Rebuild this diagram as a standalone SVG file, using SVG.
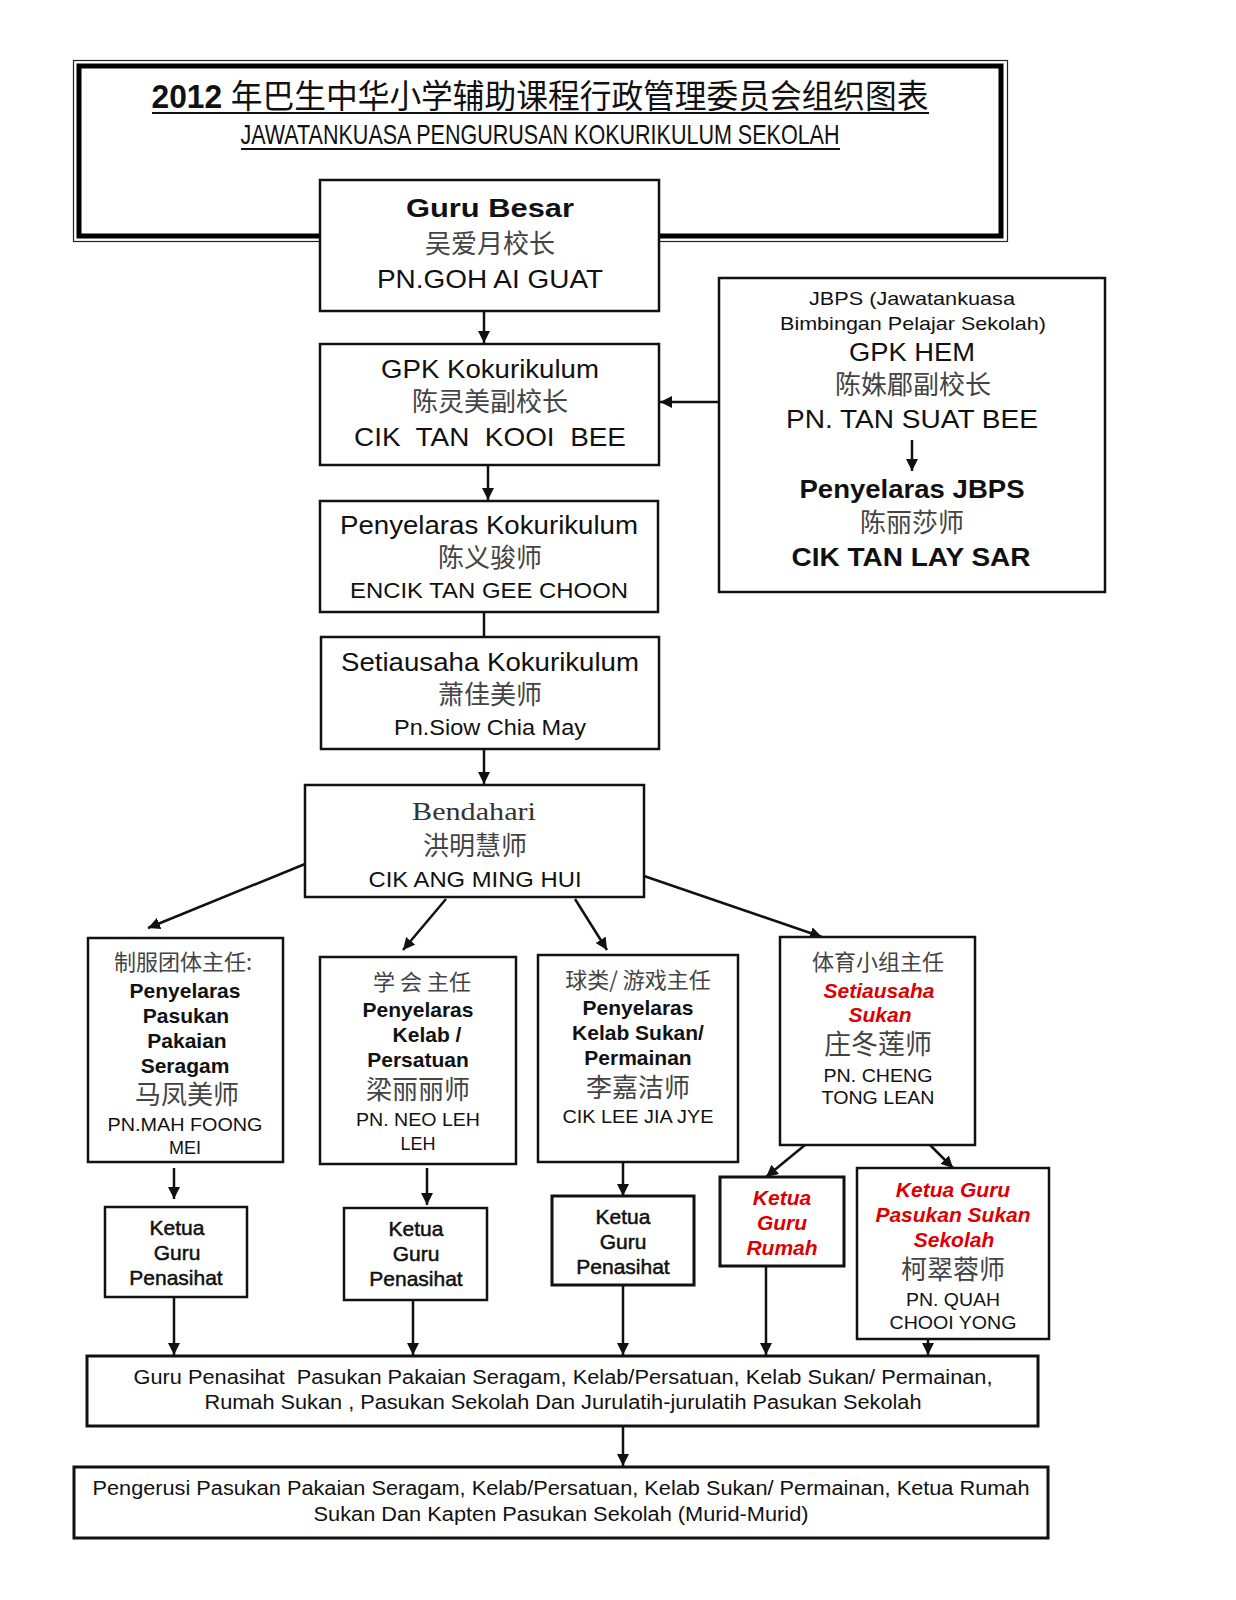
<svg xmlns="http://www.w3.org/2000/svg" width="1236" height="1600" viewBox="0 0 1236 1600">
<style>
.box{fill:#fff;stroke:#111;stroke-width:2.5}
.boxb{fill:#fff;stroke:#111;stroke-width:3}
.ln{stroke:#111;stroke-width:2.5;fill:none}
.t{font-family:"Liberation Sans","Noto Sans CJK SC",sans-serif;fill:#111;text-anchor:middle}
.b{font-weight:bold}
.c{font-family:"Noto Sans CJK SC",sans-serif;fill:#444;text-anchor:middle}
.r{fill:#d00;font-weight:bold;font-style:italic}
.k{stroke:#111;stroke-width:0.5}
</style>
<defs>
<marker id="ah" viewBox="0 0 10 10" refX="10" refY="5" markerWidth="12" markerHeight="12" markerUnits="userSpaceOnUse" orient="auto">
<path d="M0,0 L10,5 L0,10 z" fill="#111"/>
</marker>
</defs>

<g id="title">
<rect x="73.5" y="60.5" width="934" height="181" fill="none" stroke="#222" stroke-width="1.2"/>
<rect x="79" y="66" width="922" height="170" fill="#fff" stroke="#000" stroke-width="5"/>
<text class="t" x="540" y="108" font-size="33" textLength="777" lengthAdjust="spacingAndGlyphs"><tspan font-weight="bold">2012 </tspan>年巴生中华小学辅助课程行政管理委员会组织图表</text>
<line x1="152" y1="113" x2="929" y2="113" stroke="#111" stroke-width="2"/>
<text class="t" x="540" y="144" font-size="28" textLength="599" lengthAdjust="spacingAndGlyphs">JAWATANKUASA  PENGURUSAN  KOKURIKULUM  SEKOLAH</text>
<line x1="241" y1="149" x2="840" y2="149" stroke="#111" stroke-width="2"/>
</g>

<g id="connectors">
<line class="ln" x1="484" y1="311" x2="484" y2="343" marker-end="url(#ah)"/>
<line class="ln" x1="719" y1="402" x2="660" y2="402" marker-end="url(#ah)"/>
<line class="ln" x1="488" y1="465" x2="488" y2="500" marker-end="url(#ah)"/>
<line class="ln" x1="484" y1="612" x2="484" y2="637"/>
<line class="ln" x1="484" y1="749" x2="484" y2="784" marker-end="url(#ah)"/>
<line class="ln" x1="305" y1="864" x2="148" y2="928" marker-end="url(#ah)"/>
<line class="ln" x1="446" y1="899" x2="403" y2="950" marker-end="url(#ah)"/>
<line class="ln" x1="575" y1="899" x2="607" y2="950" marker-end="url(#ah)"/>
<line class="ln" x1="644" y1="876" x2="822" y2="937" marker-end="url(#ah)"/>
<line class="ln" x1="174" y1="1168" x2="174" y2="1199" marker-end="url(#ah)"/>
<line class="ln" x1="427" y1="1168" x2="427" y2="1205" marker-end="url(#ah)"/>
<line class="ln" x1="623" y1="1162" x2="623" y2="1196" marker-end="url(#ah)"/>
<line class="ln" x1="805" y1="1145" x2="766" y2="1177" marker-end="url(#ah)"/>
<line class="ln" x1="930" y1="1145" x2="953" y2="1168" marker-end="url(#ah)"/>
<line class="ln" x1="174" y1="1297" x2="174" y2="1355" marker-end="url(#ah)"/>
<line class="ln" x1="413" y1="1300" x2="413" y2="1355" marker-end="url(#ah)"/>
<line class="ln" x1="623" y1="1285" x2="623" y2="1355" marker-end="url(#ah)"/>
<line class="ln" x1="766" y1="1266" x2="766" y2="1355" marker-end="url(#ah)"/>
<line class="ln" x1="928" y1="1339" x2="928" y2="1355" marker-end="url(#ah)"/>
<line class="ln" x1="623" y1="1426" x2="623" y2="1466" marker-end="url(#ah)"/>
</g>

<g id="guru-besar">
<rect class="box" x="320" y="180" width="339" height="131"/>
<text class="t b" x="490" y="217" font-size="26" textLength="168" lengthAdjust="spacingAndGlyphs">Guru Besar</text>
<text class="c" x="490" y="253" font-size="26">吴爱月校长</text>
<text class="t" x="490" y="288" font-size="25" textLength="226" lengthAdjust="spacingAndGlyphs">PN.GOH AI GUAT</text>
</g>

<g id="gpk-kokurikulum">
<rect class="box" x="320" y="344" width="339" height="121"/>
<text class="t" x="490" y="378" font-size="25" textLength="218" lengthAdjust="spacingAndGlyphs">GPK Kokurikulum</text>
<text class="c" x="490" y="411" font-size="26">陈灵美副校长</text>
<text class="t" x="490" y="446" font-size="25" textLength="272" lengthAdjust="spacingAndGlyphs" xml:space="preserve">CIK  TAN  KOOI  BEE</text>
</g>

<g id="jbps">
<rect class="box" x="719" y="278" width="386" height="314"/>
<text class="t" x="912" y="305" font-size="19" textLength="206" lengthAdjust="spacingAndGlyphs">JBPS (Jawatankuasa</text>
<text class="t" x="913" y="330" font-size="19" textLength="266" lengthAdjust="spacingAndGlyphs">Bimbingan Pelajar Sekolah)</text>
<text class="t" x="912" y="361" font-size="25" textLength="126" lengthAdjust="spacingAndGlyphs">GPK HEM</text>
<text class="c" x="913" y="394" font-size="26">陈姝郿副校长</text>
<text class="t" x="912" y="428" font-size="25" textLength="252" lengthAdjust="spacingAndGlyphs">PN. TAN SUAT BEE</text>
<line class="ln" x1="912" y1="440" x2="912" y2="471" marker-end="url(#ah)"/>
<text class="t b" x="912" y="498" font-size="25" textLength="225" lengthAdjust="spacingAndGlyphs">Penyelaras JBPS</text>
<text class="c" x="912" y="532" font-size="26">陈丽莎师</text>
<text class="t b" x="911" y="566" font-size="25" textLength="239" lengthAdjust="spacingAndGlyphs">CIK TAN LAY SAR</text>
</g>

<g id="penyelaras-kokurikulum">
<rect class="box" x="320" y="501" width="338" height="111"/>
<text class="t" x="489" y="534" font-size="25" textLength="298" lengthAdjust="spacingAndGlyphs">Penyelaras Kokurikulum</text>
<text class="c" x="490" y="567" font-size="26">陈义骏师</text>
<text class="t" x="489" y="598" font-size="22" textLength="278" lengthAdjust="spacingAndGlyphs">ENCIK TAN GEE CHOON</text>
</g>

<g id="setiausaha-kokurikulum">
<rect class="box" x="321" y="637" width="338" height="112"/>
<text class="t" x="490" y="671" font-size="25" textLength="298" lengthAdjust="spacingAndGlyphs">Setiausaha Kokurikulum</text>
<text class="c" x="490" y="704" font-size="26">萧佳美师</text>
<text class="t" x="490" y="735" font-size="22" textLength="192" lengthAdjust="spacingAndGlyphs">Pn.Siow Chia May</text>
</g>

<g id="bendahari">
<rect class="box" x="305" y="785" width="339" height="112"/>
<text x="474" y="820" font-family="Liberation Serif,serif" font-size="25" fill="#333" text-anchor="middle" textLength="124" lengthAdjust="spacingAndGlyphs">Bendahari</text>
<text class="c" x="475" y="855" font-size="26">洪明慧师</text>
<text class="t" x="475" y="887" font-size="22" textLength="213" lengthAdjust="spacingAndGlyphs">CIK ANG MING HUI</text>
</g>

<g id="pakaian-seragam">
<rect class="box" x="88" y="938" width="195" height="224"/>
<text class="c" x="183" y="970" font-size="22">制服团体主任:</text>
<text class="t b" x="185" y="998" font-size="21">Penyelaras</text>
<text class="t b" x="186" y="1023" font-size="21">Pasukan</text>
<text class="t b" x="187" y="1048" font-size="21">Pakaian</text>
<text class="t b" x="185" y="1073" font-size="21">Seragam</text>
<text class="c" x="187" y="1104" font-size="26">马凤美师</text>
<text class="t" x="185" y="1131" font-size="18" textLength="155" lengthAdjust="spacingAndGlyphs">PN.MAH FOONG</text>
<text class="t" x="185" y="1154" font-size="18">MEI</text>
</g>

<g id="kelab-persatuan">
<rect class="box" x="320" y="957" width="196" height="207"/>
<text class="c" x="422" y="990" font-size="22" xml:space="preserve">学 会 主任</text>
<text class="t b" x="418" y="1017" font-size="21">Penyelaras</text>
<text class="t b" x="427" y="1042" font-size="21">Kelab /</text>
<text class="t b" x="418" y="1067" font-size="21">Persatuan</text>
<text class="c" x="418" y="1099" font-size="26">梁丽丽师</text>
<text class="t" x="418" y="1126" font-size="18" textLength="124" lengthAdjust="spacingAndGlyphs">PN. NEO LEH</text>
<text class="t" x="418" y="1150" font-size="18">LEH</text>
</g>

<g id="kelab-sukan">
<rect class="box" x="538" y="955" width="200" height="207"/>
<text class="c" x="638" y="988" font-size="22">球类/ 游戏主任</text>
<text class="t b" x="638" y="1015" font-size="21">Penyelaras</text>
<text class="t b" x="638" y="1040" font-size="21">Kelab Sukan/</text>
<text class="t b" x="638" y="1065" font-size="21">Permainan</text>
<text class="c" x="638" y="1097" font-size="26">李嘉洁师</text>
<text class="t" x="638" y="1123" font-size="18" textLength="151" lengthAdjust="spacingAndGlyphs">CIK LEE JIA JYE</text>
</g>

<g id="setiausaha-sukan">
<rect class="box" x="780" y="937" width="195" height="208"/>
<text class="c" x="878" y="970" font-size="22">体育小组主任</text>
<text class="t r" x="879" y="998" font-size="21">Setiausaha</text>
<text class="t r" x="880" y="1022" font-size="21">Sukan</text>
<text class="c" x="878" y="1054" font-size="27">庄冬莲师</text>
<text class="t" x="878" y="1082" font-size="18" textLength="109" lengthAdjust="spacingAndGlyphs">PN. CHENG</text>
<text class="t" x="878" y="1104" font-size="18" textLength="113" lengthAdjust="spacingAndGlyphs">TONG LEAN</text>
</g>

<g id="ketua-1">
<rect class="box" x="105" y="1207" width="142" height="90"/>
<text class="t k" x="177" y="1235" font-size="21">Ketua</text>
<text class="t k" x="177" y="1260" font-size="21">Guru</text>
<text class="t k" x="176" y="1285" font-size="21">Penasihat</text>
</g>

<g id="ketua-2">
<rect class="box" x="344" y="1208" width="143" height="92"/>
<text class="t k" x="416" y="1236" font-size="21">Ketua</text>
<text class="t k" x="416" y="1261" font-size="21">Guru</text>
<text class="t k" x="416" y="1286" font-size="21">Penasihat</text>
</g>

<g id="ketua-3">
<rect class="boxb" x="552" y="1196" width="142" height="89"/>
<text class="t k" x="623" y="1224" font-size="21">Ketua</text>
<text class="t k" x="623" y="1249" font-size="21">Guru</text>
<text class="t k" x="623" y="1274" font-size="21">Penasihat</text>
</g>

<g id="ketua-rumah">
<rect class="boxb" x="720" y="1177" width="124" height="89"/>
<text class="t r" x="782" y="1205" font-size="21">Ketua</text>
<text class="t r" x="782" y="1230" font-size="21">Guru</text>
<text class="t r" x="782" y="1255" font-size="21">Rumah</text>
</g>

<g id="ketua-pasukan-sukan">
<rect class="box" x="857" y="1168" width="192" height="171"/>
<text class="t r" x="953" y="1197" font-size="21">Ketua Guru</text>
<text class="t r" x="953" y="1222" font-size="21">Pasukan Sukan</text>
<text class="t r" x="954" y="1247" font-size="21">Sekolah</text>
<text class="c" x="953" y="1279" font-size="26">柯翠蓉师</text>
<text class="t" x="953" y="1306" font-size="18" textLength="94" lengthAdjust="spacingAndGlyphs">PN. QUAH</text>
<text class="t" x="953" y="1329" font-size="18" textLength="127" lengthAdjust="spacingAndGlyphs">CHOOI YONG</text>
</g>

<g id="guru-penasihat">
<rect class="boxb" x="87" y="1356" width="951" height="70"/>
<text class="t" x="563" y="1384" font-size="20" textLength="859" lengthAdjust="spacingAndGlyphs" xml:space="preserve">Guru Penasihat  Pasukan Pakaian Seragam, Kelab/Persatuan, Kelab Sukan/ Permainan,</text>
<text class="t" x="563" y="1409" font-size="20" textLength="717" lengthAdjust="spacingAndGlyphs">Rumah Sukan , Pasukan Sekolah Dan Jurulatih-jurulatih Pasukan Sekolah</text>
</g>

<g id="pengerusi">
<rect class="boxb" x="74" y="1467" width="974" height="71"/>
<text class="t" x="561" y="1495" font-size="20" textLength="937" lengthAdjust="spacingAndGlyphs">Pengerusi Pasukan Pakaian Seragam, Kelab/Persatuan, Kelab Sukan/ Permainan, Ketua Rumah</text>
<text class="t" x="561" y="1521" font-size="20" textLength="495" lengthAdjust="spacingAndGlyphs">Sukan Dan Kapten Pasukan Sekolah (Murid-Murid)</text>
</g>
</svg>
